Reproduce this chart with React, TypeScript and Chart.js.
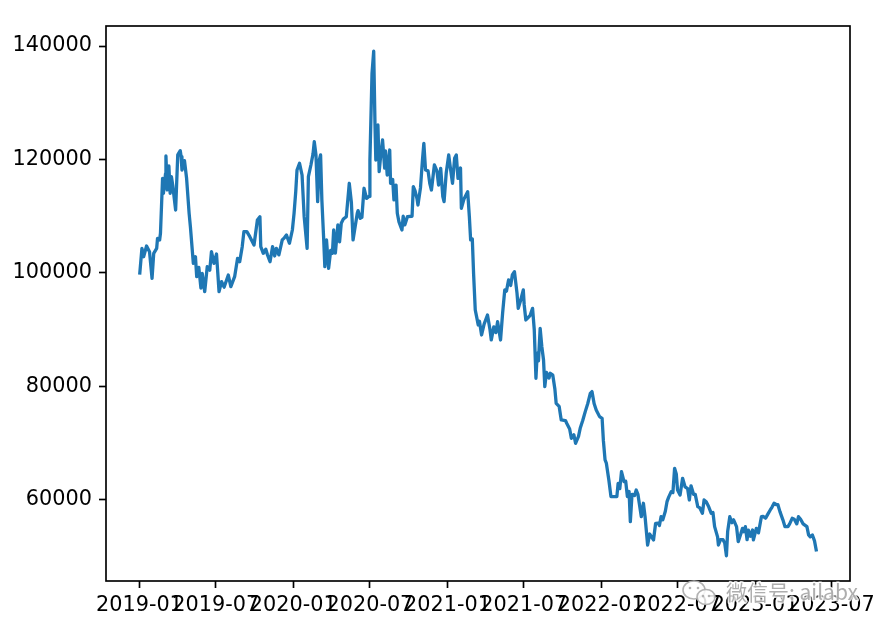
import { useEffect, useRef } from "react";
import { Chart, registerables } from "chart.js";

Chart.register(...registerables);

const dates: string[] = [
  "2019-01-02","2019-01-07","2019-01-11","2019-01-18","2019-01-25","2019-01-31","2019-02-04","2019-02-11","2019-02-13","2019-02-18",
  "2019-02-20","2019-02-25","2019-02-27","2019-03-04","2019-03-05","2019-03-08","2019-03-12","2019-03-15","2019-03-18","2019-03-21",
  "2019-03-28","2019-04-02","2019-04-08","2019-04-10","2019-04-12","2019-04-18","2019-04-23","2019-04-29","2019-05-02","2019-05-09",
  "2019-05-14","2019-05-17","2019-05-22","2019-05-27","2019-05-30","2019-06-05","2019-06-11","2019-06-17","2019-06-21","2019-06-27",
  "2019-07-03","2019-07-09","2019-07-15","2019-07-21","2019-07-31","2019-08-06","2019-08-15","2019-08-22","2019-08-27","2019-09-02",
  "2019-09-06","2019-09-13","2019-09-20","2019-09-30","2019-10-08","2019-10-14","2019-10-16","2019-10-22","2019-10-28","2019-11-01",
  "2019-11-07","2019-11-13","2019-11-18","2019-11-22","2019-11-28","2019-12-06","2019-12-11","2019-12-16","2019-12-23","2019-12-30",
  "2020-01-03","2020-01-07","2020-01-10","2020-01-16","2020-01-22","2020-01-27","2020-02-03","2020-02-06","2020-02-12","2020-02-17",
  "2020-02-20","2020-02-24","2020-02-28","2020-03-03","2020-03-06","2020-03-09","2020-03-13","2020-03-16","2020-03-20","2020-03-25",
  "2020-03-30","2020-04-03","2020-04-06","2020-04-10","2020-04-16","2020-04-20","2020-04-24","2020-04-29","2020-05-06","2020-05-11",
  "2020-05-13","2020-05-18","2020-05-22","2020-06-01","2020-06-03","2020-06-08","2020-06-12","2020-06-17","2020-06-23","2020-06-29",
  "2020-07-01","2020-07-06","2020-07-10","2020-07-13","2020-07-15","2020-07-20","2020-07-23","2020-07-27","2020-07-31","2020-08-05",
  "2020-08-07","2020-08-11","2020-08-17","2020-08-19","2020-08-24","2020-08-27","2020-09-01","2020-09-04","2020-09-08","2020-09-15",
  "2020-09-18","2020-09-22","2020-09-28","2020-10-09","2020-10-12","2020-10-16","2020-10-21","2020-10-23","2020-10-29","2020-11-03",
  "2020-11-06","2020-11-10","2020-11-16","2020-11-20","2020-11-24","2020-12-01","2020-12-07","2020-12-11","2020-12-16","2020-12-21",
  "2020-12-24","2020-12-29","2021-01-04","2021-01-08","2021-01-13","2021-01-18","2021-01-22","2021-01-26","2021-02-01","2021-02-03",
  "2021-02-09","2021-02-18","2021-02-22","2021-02-25","2021-03-01","2021-03-04","2021-03-08","2021-03-12","2021-03-15","2021-03-18",
  "2021-03-23","2021-03-29","2021-04-06","2021-04-12","2021-04-15","2021-04-21","2021-04-26","2021-04-30","2021-05-07","2021-05-12",
  "2021-05-17","2021-05-21","2021-05-26","2021-05-31","2021-06-04","2021-06-09","2021-06-15","2021-06-18","2021-06-23","2021-06-30",
  "2021-07-02","2021-07-06","2021-07-12","2021-07-16","2021-07-22","2021-07-26","2021-07-30","2021-08-02","2021-08-05","2021-08-09",
  "2021-08-13","2021-08-17","2021-08-20","2021-08-24","2021-08-30","2021-09-02","2021-09-08","2021-09-13","2021-09-16","2021-09-23",
  "2021-09-28","2021-10-08","2021-10-11","2021-10-18","2021-10-22","2021-10-28","2021-11-01","2021-11-08","2021-11-12","2021-11-18",
  "2021-11-24","2021-11-30","2021-12-06","2021-12-10","2021-12-15","2021-12-20","2021-12-28","2022-01-03","2022-01-06","2022-01-10",
  "2022-01-13","2022-01-19","2022-01-24","2022-01-28","2022-02-07","2022-02-10","2022-02-14","2022-02-18","2022-02-24","2022-02-28",
  "2022-03-04","2022-03-08","2022-03-11","2022-03-15","2022-03-21","2022-03-25","2022-03-29","2022-04-01","2022-04-06","2022-04-11",
  "2022-04-15","2022-04-21","2022-04-26","2022-05-05","2022-05-10","2022-05-16","2022-05-19","2022-05-23","2022-05-27","2022-06-02",
  "2022-06-06","2022-06-10","2022-06-16","2022-06-20","2022-06-24","2022-06-28","2022-07-01","2022-07-07","2022-07-13","2022-07-19",
  "2022-07-25","2022-07-29","2022-08-02","2022-08-08","2022-08-12","2022-08-18","2022-08-23","2022-08-29","2022-09-02","2022-09-07",
  "2022-09-13","2022-09-19","2022-09-23","2022-09-27","2022-10-04","2022-10-06","2022-10-11","2022-10-17","2022-10-21","2022-10-25",
  "2022-10-28","2022-11-02","2022-11-07","2022-11-11","2022-11-18","2022-11-22","2022-11-28","2022-12-02","2022-12-05","2022-12-09",
  "2022-12-13","2022-12-16","2022-12-21","2022-12-26","2022-12-28","2023-01-04","2023-01-09","2023-01-16","2023-01-20","2023-01-26",
  "2023-02-01","2023-02-06","2023-02-10","2023-02-15","2023-02-20","2023-02-24","2023-03-01","2023-03-08","2023-03-13","2023-03-20",
  "2023-03-24","2023-03-30","2023-04-04","2023-04-10","2023-04-14","2023-04-19","2023-04-25","2023-05-04","2023-05-08","2023-05-12",
  "2023-05-17","2023-05-22","2023-05-26",
];

const values: number[] = [
  100000,104350,102870,104760,103760,99060,103470,104350,106110,105820,
  107000,116690,114050,117500,120620,114630,118860,114050,116970,115500,
  111100,120800,121550,120500,118150,119790,116690,110520,108170,101700,
  102870,99350,101000,97320,99940,96710,101110,100500,103760,101700,
  103350,96710,98470,97500,99650,97590,99350,102580,102000,104640,
  107280,107280,106400,104940,109340,109920,104640,103470,104200,103170,
  101990,104640,103000,104350,103200,105820,106200,106700,105230,107580,
  110520,114340,118150,119330,117270,109920,104350,116970,119030,121000,
  123140,120800,112570,119910,120800,112870,106500,101110,105820,100830,
  104000,103470,107580,103500,108460,105500,108760,109500,109920,114050,
  115810,112500,105820,110520,111000,109640,109800,114930,113160,113500,
  119910,135190,139080,126380,119910,126080,117850,121000,123440,118500,
  121500,117270,121670,115810,116500,112870,115500,110520,109000,107580,
  110000,108500,109920,110000,115220,114500,113000,111980,115000,120210,
  122850,118150,118000,115810,114630,119030,118000,115500,118450,113460,
  112570,117570,120800,118500,115810,120210,120800,116690,118500,111400,
  113000,114340,109920,105820,106000,99940,93480,92000,90840,91500,
  89080,91000,92600,90000,88200,90500,89500,91420,88200,93000,
  97010,96800,98770,97800,99650,100240,96500,93770,95000,97010,
  94500,91720,92200,92500,93770,90000,81450,85860,84500,90250,
  87000,84680,79980,82500,81500,82330,82000,79500,77040,76500,
  74100,74000,73520,72500,70870,71500,69990,71200,72630,74000,
  75570,77000,78800,79100,77000,75860,74690,74400,70500,67050,
  66500,63530,60590,60600,60590,62940,62000,64990,63230,63300,
  60590,61500,56180,61000,60800,61760,61000,59500,57060,59420,
  57000,52070,54000,52960,55890,55900,55500,57060,56500,58000,
  59700,60500,61470,61300,65580,64600,61760,60880,63820,62300,
  62000,60000,62500,61000,61000,58820,58600,57650,60000,59700,
  58800,57650,57800,55300,53500,52070,53000,53000,52400,50170,
  54500,57060,56000,56500,55300,52660,54000,55000,54400,55300,
  53000,54700,53600,54700,52960,55000,54200,57060,57100,56800,
  57600,58240,58700,59420,59200,59200,57950,56500,55300,55300,
  55800,56770,56600,55800,57060,56600,55800,55300,53840,53500,
  53840,52800,51200,
];

const xTickDates: string[] = [
  "2019-01-01","2019-07-01","2020-01-01","2020-07-01","2021-01-01",
  "2021-07-01","2022-01-01","2022-07-01","2023-01-01","2023-07-01",
];
const xTickLabels: string[] = [
  "2019-01","2019-07","2020-01","2020-07","2021-01",
  "2021-07","2022-01","2022-07","2023-01","2023-07",
];
const yTicks: number[] = [60000, 80000, 100000, 120000, 140000];

const watermarkText = "微信号: ailabx";

const ORIGIN = Date.UTC(2019, 0, 1);
function toDay(s: string): number {
  const [y, m, d] = s.split("-").map(Number);
  return (Date.UTC(y, m - 1, d) - ORIGIN) / 86400000;
}

const FONT = { family: "'DejaVu Sans', sans-serif", size: 20.8 };

export default function App() {
  const ref = useRef<HTMLCanvasElement | null>(null);

  useEffect(() => {
    document.body.style.margin = "0";
    const canvas = ref.current;
    if (!canvas) return;

    const pts = dates.map((d, i) => ({ x: toDay(d), y: values[i] }));
    const xs = pts.map((p) => p.x);
    const ys = pts.map((p) => p.y);
    const xMin0 = Math.min(...xs), xMax0 = Math.max(...xs);
    const yMin0 = Math.min(...ys), yMax0 = Math.max(...ys);
    const xm = (xMax0 - xMin0) * 0.05;
    const ym = (yMax0 - yMin0) * 0.05;
    const tickDays = xTickDates.map(toDay);

    const framePlugin = {
      id: "frame",
      afterDraw(chart: any) {
        const { ctx, chartArea: a } = chart;
        ctx.save();
        ctx.strokeStyle = "#000";
        ctx.lineWidth = 1.67;
        ctx.strokeRect(a.left, a.top, a.right - a.left, a.bottom - a.top);
        // watermark
        ctx.lineWidth = 1.6;
        ctx.strokeStyle = "rgba(175,175,175,0.95)";
        ctx.fillStyle = "rgba(255,255,255,0.85)";
        ctx.beginPath();
        ctx.ellipse(694, 590, 11, 9, 0, 0, Math.PI * 2);
        ctx.fill();
        ctx.stroke();
        ctx.beginPath();
        ctx.ellipse(706, 597, 9, 7.5, 0, 0, Math.PI * 2);
        ctx.fill();
        ctx.stroke();
        ctx.fillStyle = "rgba(175,175,175,0.95)";
        [[690, 588], [698, 588], [703, 596], [709, 596]].forEach(([cx, cy]) => {
          ctx.beginPath();
          ctx.arc(cx, cy, 1.3, 0, Math.PI * 2);
          ctx.fill();
        });
        ctx.font = "21px 'Noto Sans CJK SC', sans-serif";
        ctx.textBaseline = "middle";
        ctx.textAlign = "left";
        ctx.lineJoin = "round";
        ctx.strokeStyle = "rgba(255,255,255,0.8)";
        ctx.lineWidth = 3;
        ctx.strokeText(watermarkText, 726, 592);
        ctx.fillStyle = "rgba(170,170,170,0.95)";
        ctx.fillText(watermarkText, 726, 592);
        ctx.restore();
      },
    };

    const chart = new Chart(canvas, {
      type: "line",
      data: {
        datasets: [
          {
            data: pts,
            borderColor: "#1f77b4",
            borderWidth: 3.3,
            pointRadius: 0,
            tension: 0,
            borderJoinStyle: "round",
            borderCapStyle: "square",
            fill: false,
          },
        ],
      },
      options: {
        responsive: false,
        animation: false,
        devicePixelRatio: 1,
        layout: { padding: { top: 26, right: 40, left: 0, bottom: 0 } },
        plugins: { legend: { display: false }, tooltip: { enabled: false } },
        scales: {
          x: {
            type: "linear",
            min: xMin0 - xm,
            max: xMax0 + xm,
            afterBuildTicks: (scale: any) => {
              scale.ticks = tickDays.map((v) => ({ value: v }));
            },
            afterFit: (scale: any) => {
              scale.height = 49;
            },
            ticks: {
              autoSkip: false,
              maxRotation: 0,
              minRotation: 0,
              padding: 5,
              color: "#000",
              font: FONT,
              callback: (v: any) => {
                const i = tickDays.indexOf(Number(v));
                return i >= 0 ? xTickLabels[i] : "";
              },
            },
            grid: {
              display: true,
              drawOnChartArea: false,
              drawTicks: true,
              tickLength: 7,
              tickWidth: 1.67,
              tickColor: "#000",
            },
            border: { display: false },
          },
          y: {
            type: "linear",
            min: yMin0 - ym,
            max: yMax0 + ym,
            afterBuildTicks: (scale: any) => {
              scale.ticks = yTicks.map((v) => ({ value: v }));
            },
            afterFit: (scale: any) => {
              scale.width = 106;
            },
            ticks: {
              autoSkip: false,
              padding: 7,
              color: "#000",
              font: FONT,
              callback: (v: any) => String(v),
            },
            grid: {
              display: true,
              drawOnChartArea: false,
              drawTicks: true,
              tickLength: 7,
              tickWidth: 1.67,
              tickColor: "#000",
            },
            border: { display: false },
          },
        },
      },
      plugins: [framePlugin],
    } as any);

    return () => chart.destroy();
  }, []);

  return (
    <div style={{ position: "absolute", left: 0, top: 0, width: 890, height: 630, background: "#fff" }}>
      <canvas ref={ref} width={890} height={630} style={{ width: 890, height: 630, display: "block" }} />
    </div>
  );
}
